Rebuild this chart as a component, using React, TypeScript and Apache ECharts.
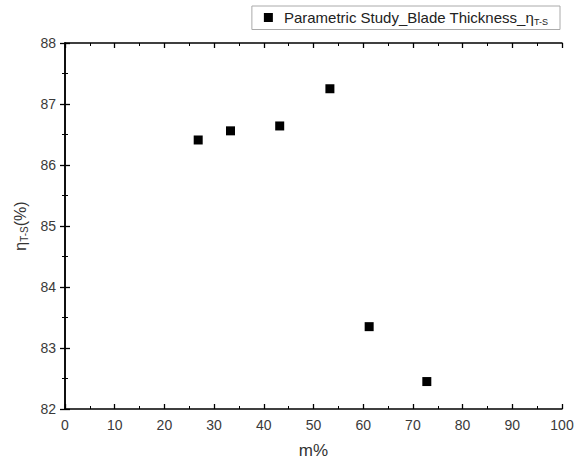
import React, { useEffect, useRef } from "react";
import * as echarts from "echarts";

const seriesName = "Parametric Study_Blade Thickness_η";
const mValues = [26.8, 33.3, 43.2, 53.3, 61.2, 72.8];
const etaValues = [86.41, 86.56, 86.64, 87.25, 83.35, 82.45];

export default function App() {
  const ref = useRef<HTMLDivElement>(null);
  useEffect(() => {
    const chart = echarts.init(ref.current!, null, { renderer: "svg" });
    const font = "Liberation Sans, Arial, sans-serif";
    const axisLine = { show: true, lineStyle: { color: "#000", width: 1.5 } };
    const tick = { show: true, inside: true, length: 5, lineStyle: { color: "#000", width: 1.3 } };
    const minor = { show: true, splitNumber: 2, length: 3, lineStyle: { color: "#000", width: 1 } };
    const label = { color: "#3a3a3a", fontSize: 14, fontFamily: font };
    chart.setOption({
      animation: false,
      grid: { left: 65, right: 19, top: 43, bottom: 58 },
      legend: {
        top: 6,
        right: 21,
        itemWidth: 9,
        itemHeight: 9,
        itemGap: 6,
        padding: [4, 12, 3, 12],
        borderColor: "#aaa",
        borderWidth: 1,
        borderRadius: 0,
        data: [{ name: seriesName, icon: "rect" }],
        formatter: () => "{t|Parametric Study_Blade Thickness_η}{s|T-S}",
        textStyle: {
          fontFamily: font,
          padding: [0, 0, 0, 6],
          rich: {
            t: { fontSize: 15, color: "#222", fontFamily: font },
            s: { fontSize: 9, color: "#222", fontFamily: font, padding: [9, 0, 0, 0] },
          },
        },
      },
      xAxis: [
        {
          type: "value",
          min: 0,
          max: 100,
          interval: 10,
          position: "bottom",
          name: "m%",
          nameLocation: "middle",
          nameGap: 33,
          nameTextStyle: { fontSize: 17, color: "#333", fontFamily: font },
          axisLine,
          axisTick: tick,
          minorTick: minor,
          splitLine: { show: false },
          axisLabel: { ...label, margin: 9 },
        },
        {
          type: "value",
          min: 0,
          max: 100,
          interval: 10,
          position: "top",
          axisLine,
          axisTick: tick,
          minorTick: minor,
          splitLine: { show: false },
          axisLabel: { show: false },
        },
      ],
      yAxis: [
        {
          type: "value",
          min: 82,
          max: 88,
          interval: 1,
          position: "left",
          name: "{t|η}{s|T-S}{t|(%)}",
          nameLocation: "middle",
          nameGap: 34,
          nameTextStyle: {
            fontFamily: font,
            rich: {
              t: { fontSize: 16, color: "#333", fontFamily: font },
              s: { fontSize: 10, color: "#333", fontFamily: font, padding: [8, 0, 0, 0] },
            },
          },
          axisLine,
          axisTick: tick,
          minorTick: minor,
          splitLine: { show: false },
          axisLabel: { ...label, margin: 9 },
        },
        {
          type: "value",
          min: 82,
          max: 88,
          interval: 1,
          position: "right",
          axisLine,
          axisTick: tick,
          minorTick: minor,
          splitLine: { show: false },
          axisLabel: { show: false },
        },
      ],
      series: [
        {
          name: seriesName,
          type: "scatter",
          symbol: "rect",
          symbolSize: 9,
          itemStyle: { color: "#000", opacity: 1 },
          data: mValues.map((m, i) => [m, etaValues[i]]),
        },
      ],
    });
    return () => chart.dispose();
  }, []);
  return <div ref={ref} style={{ width: 581, height: 467, position: "absolute", left: 0, top: 0, background: "#fff" }} />;
}
